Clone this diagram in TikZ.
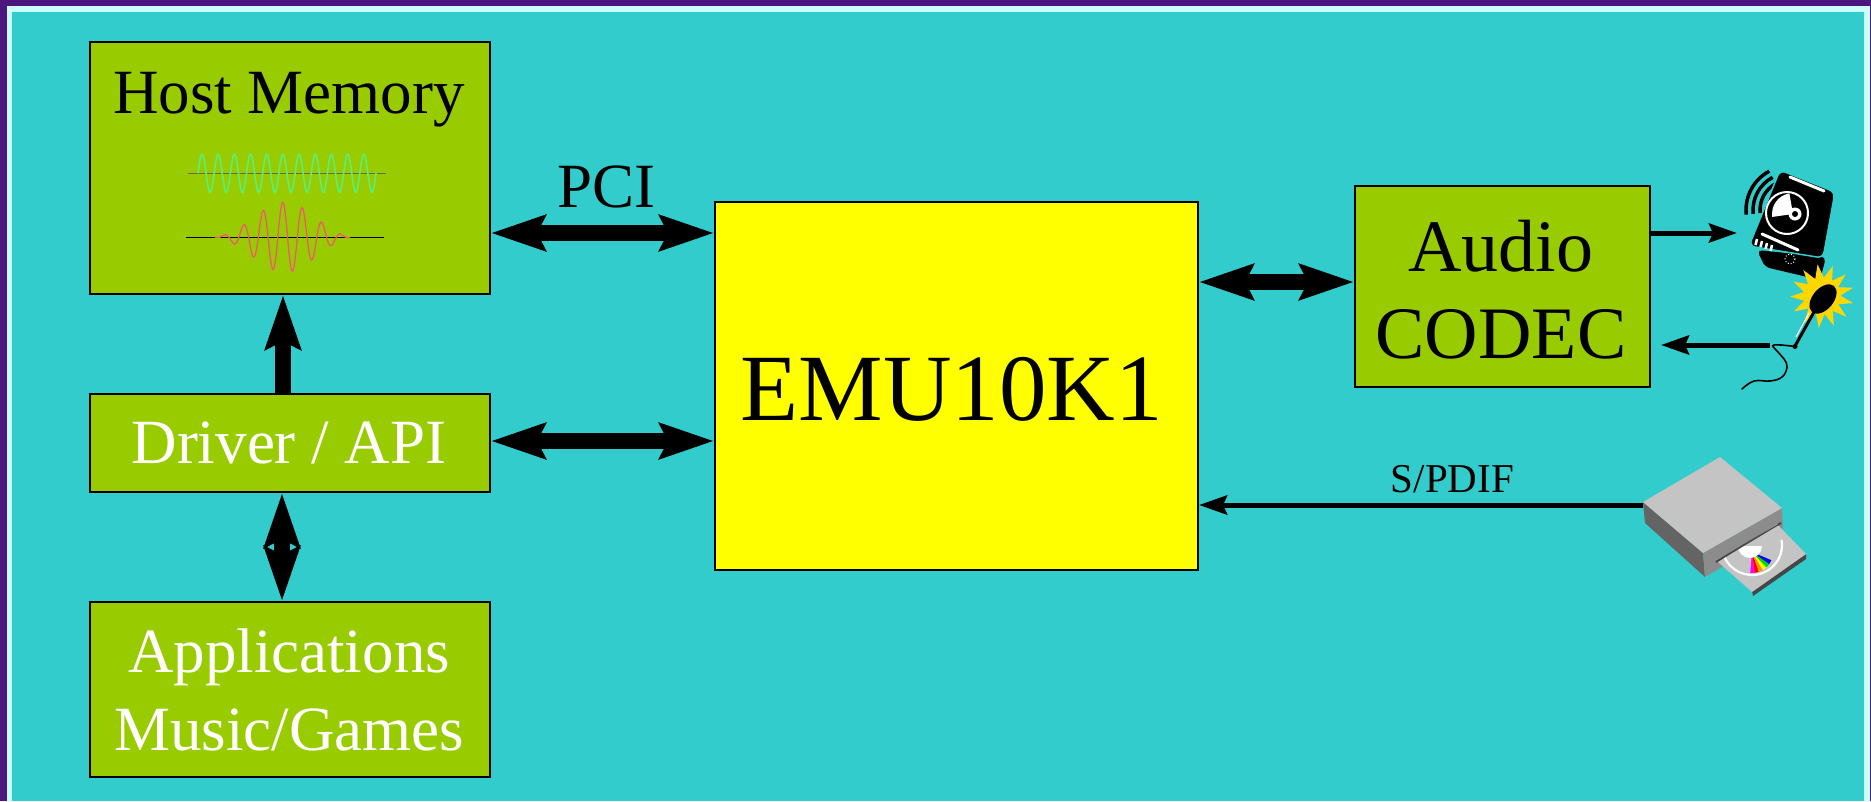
\documentclass[tikz,border=0pt]{standalone}
\usepackage{fontspec}
\setmainfont{Liberation Serif}
\usetikzlibrary{arrows.meta,shapes.geometric}

\definecolor{frame}{RGB}{75,22,125}
\definecolor{rim}{RGB}{204,255,255}
\definecolor{sea}{RGB}{51,204,204}
\definecolor{leaf}{RGB}{153,204,0}
\definecolor{chip}{RGB}{255,255,0}
\definecolor{wavegreen}{RGB}{90,240,120}
\definecolor{wavered}{RGB}{240,90,110}
\definecolor{axisgray}{RGB}{110,105,70}
\definecolor{burst}{RGB}{255,215,0}
\definecolor{drvtop}{RGB}{196,196,196}
\definecolor{drvside}{RGB}{100,100,100}
\definecolor{drvfront}{RGB}{140,140,140}
\definecolor{drvdark}{RGB}{70,70,70}
\definecolor{raymag}{RGB}{255,0,255}
\definecolor{rayred}{RGB}{255,0,0}
\definecolor{rayorange}{RGB}{255,140,0}
\definecolor{rayyellow}{RGB}{255,255,0}
\definecolor{raygreen}{RGB}{0,220,0}
\definecolor{rayblue}{RGB}{0,0,255}

\tikzset{
  bushead/.tip={Stealth[length=54pt,width=35pt,inset=8pt]},
  linkhead/.tip={Stealth[length=28pt,width=19pt,inset=4pt]},
  box/.style={draw=black, line width=2pt, inner sep=0pt, anchor=north west},
  txt/.style={anchor=base, inner sep=0pt, font=\fontsize{63pt}{76pt}\selectfont},
  bus/.style={line width=16pt, arrows={bushead-bushead}},
  busup/.style={line width=16pt, arrows={-bushead}},
  link/.style={line width=5pt, arrows={-linkhead}},
}

\begin{document}
\begin{tikzpicture}[x=1pt,y=-1pt]
  \useasboundingbox (0,0) rectangle (1871,801);
  % backdrop and frame
  \fill[frame] (0,0) rectangle (1871,801);
  \fill[rim] (7,6) rectangle (1870,801);
  \fill[sea] (12,12) rectangle (1864,801);

  % blocks
  \node[box, fill=leaf, minimum width=400pt, minimum height=252pt] (hostmem) at (89,41) {};
  \node[box, fill=leaf, minimum width=400pt, minimum height=98pt] (driver) at (89,393) {};
  \node[box, fill=leaf, minimum width=400pt, minimum height=175pt] (apps) at (89,601) {};
  \node[box, fill=chip, minimum width=483pt, minimum height=368pt] (emu) at (714,201) {};
  \node[box, fill=leaf, minimum width=295pt, minimum height=201pt] (codec) at (1354,185) {};

  % block labels
  \node[txt] (hosttxt) at (289,113) {Host Memory};
  \node[txt, white] (drvtxt) at (289,463) {Driver / API};
  \node[txt, white] (apptxt) at (289,672) {Applications};
  \node[txt, white] (gametxt) at (289,750) {Music/Games};
  \node[txt, font=\fontsize{95pt}{110pt}\selectfont] (emutxt) at (952,420) {EMU10K1};
  \node[txt, font=\fontsize{74pt}{88pt}\selectfont] (audiotxt) at (1501,271) {Audio};
  \node[txt, font=\fontsize{74pt}{88pt}\selectfont] (codectxt) at (1501,358) {CODEC};

  % sample waveforms in host memory
  \draw[axisgray, line width=1.5pt] (188,173.3) -- (386,173.3);
  \draw[wavegreen, line width=1.6pt] plot[domain=198:376, samples=420]
      (\x, {173.3-19*sin((\x-198)/16.18*360)});
  \draw[black, line width=1.3pt] (186,237.3) -- (384,237.3);
  \draw[wavered, line width=1.3pt] plot[domain=215:350, samples=420]
      (\x, {237.3-35*exp(-((\x-287)/58)^2)*sin((\x-215)/135*180)*cos((\x-282.7)/19.5*360)});

  % bus connections
  \draw[bus] (hostmem.east |- 0,233) -- (emu.west |- 0,233);
  \node[txt] (pcitxt) at (606.5,207.5) {PCI};
  \draw[bus] (driver.east |- 0,441) -- (emu.west |- 0,441);
  \draw[bus] (emu.east |- 0,282) -- (codec.west |- 0,282);
  \draw[busup] (driver.north -| 283,0) -- (hostmem.south -| 283,0);
  \draw[bus] (apps.north -| 282,0) -- (driver.south -| 282,0);

  % speaker
  \coordinate (spkin) at (1737,233);
  \draw[link] (codec.east |- spkin) -- (spkin);
  \foreach \r in {44,37,30}
    \draw[black, line width=3.5pt] (1790,210) ++(-118:\r) arc[start angle=-118, end angle=-186, radius=\r];
  \fill[black, rounded corners=5pt] (1757,250) -- (1826,257) -- (1820,280) -- (1765,267) -- cycle;
  \filldraw[black, draw=sea, line width=1.5pt, rounded corners=6pt]
      (1780,170) -- (1835,192) -- (1823,258) -- (1749,246) -- cycle;
  \draw[white, line width=3pt, line cap=round] (1790,177) -- (1824,191);
  \draw[white, line width=3pt, line cap=round] (1762,234) -- (1798,250);
  \fill[black] (1787,213) circle[radius=21];
  \fill[white] (1793,214) -- ++(-100:21) arc[start angle=-100, end angle=-188, radius=21] -- cycle;
  \draw[white, line width=2pt] (1787,213) circle[radius=21];
  \fill[white] (1795,214) circle[radius=6.5];
  \fill[black] (1795,214) circle[radius=3];
  \foreach \t in {0,1,2,3}
    \draw[white, line width=2.5pt] (1757+5*\t,239+2*\t) -- ++(-1.5,6);
  \draw[white, line width=1pt, dotted] (1790,259) circle[radius=5];

  % microphone
  \coordinate (micout) at (1770,345);
  \draw[link] (micout) -- ([xshift=10pt]codec.east |- micout);
  \node[star, star points=13, star point ratio=1.75, fill=burst, minimum size=64pt, inner sep=0pt, rotate=8] (spark) at (1822,296) {};
  \draw[black, line width=3pt, line cap=round] (1814,312) -- (1795,346);
  \draw[white, line width=1pt] (1809,313) -- (1796,337);
  \node[ellipse, fill=black, minimum width=34pt, minimum height=21pt, inner sep=0pt, rotate=50] (michead) at (1823,299) {};
  \fill[black] (1795,346.5) circle[radius=2.5];
  \draw[black, line width=1.6pt, line cap=round] plot[smooth, tension=0.7] coordinates
      {(1795,346.5) (1774,345) (1777,351) (1784,359) (1787,367) (1782,377) (1770,381) (1754,381) (1742,389)};

  % CD drive feeding S/PDIF
  \coordinate (cdout) at (1643,505);
  \draw[link] (cdout) -- (emu.east |- cdout);
  \node[txt, font=\fontsize{41pt}{50pt}\selectfont] (spdiftxt) at (1452.5,492) {S/PDIF};
  \fill[drvside] (1643,502) -- (1645,523) -- (1705,577) -- (1703,553) -- cycle;
  \fill[drvfront] (1703,553) -- (1782,508) -- (1783,531) -- (1705,577) -- cycle;
  \fill[drvtop] (1643,502) -- (1720,457) -- (1782,508) -- (1703,553) -- cycle;
  \draw[drvdark, line width=2pt] (1716,562) -- (1781,523);
  \fill[drvdark] (1752,591) -- (1806,554) -- (1806,559) -- (1753,596) -- cycle;
  \fill[drvtop] (1718,562) -- (1777,524) -- (1806,554) -- (1752,592) -- cycle;
  \begin{scope}
    \clip (1718,562) -- (1777,524) -- (1806,554) -- (1752,592) -- cycle;
    \foreach \a/\b/\c in {95/83/raymag, 83/71/rayred, 71/59/rayorange, 59/47/rayyellow, 47/35/raygreen, 35/23/rayblue}
      \fill[\c] (1752,552) -- ++(\a:21) arc[start angle=\a, end angle=\b, radius=21] -- cycle;
    \draw[white, line width=2.2pt] (1752,545) ++(160:30) arc[start angle=160, end angle=-10, radius=30];
    \fill[white] (1738,546) arc[start angle=180, end angle=0, radius=12] -- cycle;
  \end{scope}
  \draw[drvdark, line width=1.2pt] (1716,562) -- (1781,523);
\end{tikzpicture}
\end{document}
